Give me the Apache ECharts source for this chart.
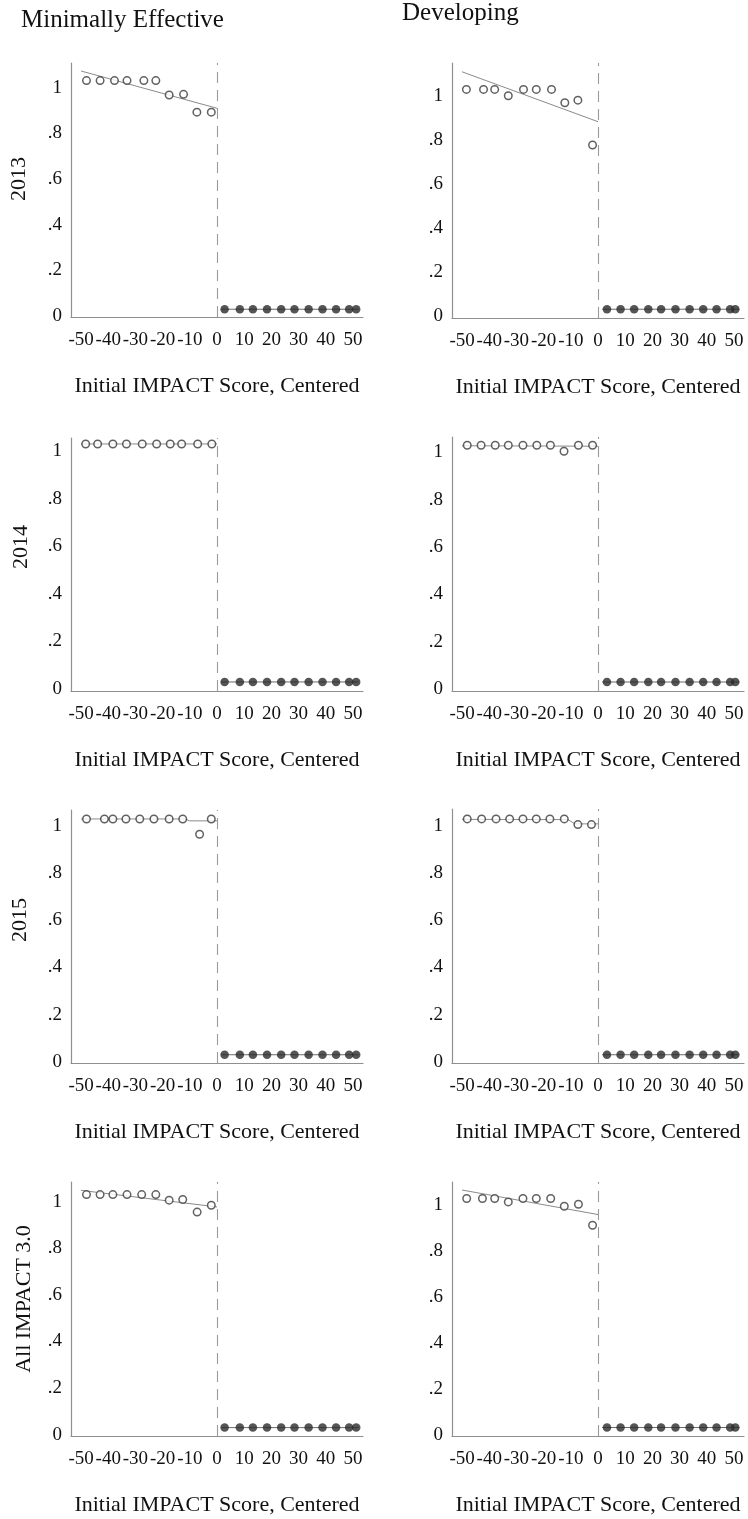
<!DOCTYPE html>
<html>
<head>
<meta charset="utf-8">
<script src="https://cdn.jsdelivr.net/npm/echarts@6/dist/echarts.min.js"></script>
<style>
  html, body { margin: 0; padding: 0; background: #fff; }
  #chart { width: 748px; height: 1519px; }
</style>
</head>
<body>
<div id="chart"></div>
<script>
// Regression-discontinuity bin plots: share of teachers by initial IMPACT score
const columnTitles = ['Minimally Effective', 'Developing'];
const rowTitles = ['2013', '2014', '2015', 'All IMPACT 3.0'];
const xTitle = 'Initial IMPACT Score, Centered';
const xTicks = [-50, -40, -30, -20, -10, 0, 10, 20, 30, 40, 50];
const yTicks = [0, 0.2, 0.4, 0.6, 0.8, 1];

// Bin means below the cutoff (open circles)
const me2013X = [-48.0, -43.0, -37.7, -33.1, -26.9, -22.5, -17.6, -12.3, -7.4, -2.1];
const me2013Y = [1, 1, 1, 1, 1, 1, 0.937, 0.94, 0.862, 0.862];
const dev2013X = [-48.4, -42.1, -38.0, -33.0, -27.4, -22.7, -17.1, -12.2, -7.4, -2.0];
const dev2013Y = [1, 1, 1, 0.971, 1, 1, 1, 0.939, 0.951, 0.747];
const me2014X = [-48.3, -43.9, -38.3, -33.3, -27.5, -22.2, -17.2, -13.0, -7.1, -1.9];
const me2014Y = [1, 1, 1, 1, 1, 1, 1, 1, 1, 1];
const dev2014X = [-48.1, -43.0, -37.8, -33.0, -27.6, -22.5, -17.5, -12.5, -7.2, -2.0];
const dev2014Y = [1, 1, 1, 1, 1, 1, 1, 0.975, 1, 1];
const me2015X = [-48.0, -41.4, -38.3, -33.5, -28.4, -23.2, -17.6, -12.6, -6.4, -2.1];
const me2015Y = [1, 1, 1, 1, 1, 1, 1, 1, 0.935, 1];
const dev2015X = [-48.1, -42.8, -37.5, -32.5, -27.6, -22.7, -17.7, -12.4, -7.4, -2.4];
const dev2015Y = [1, 1, 1, 1, 1, 1, 1, 1, 0.976, 0.976];
const meAllX = [-48.0, -43.0, -38.3, -33.1, -27.7, -22.5, -17.6, -12.6, -7.3, -2.1];
const meAllY = [1, 1, 1, 1, 1, 1, 0.976, 0.979, 0.925, 0.954];
const devAllX = [-48.3, -42.5, -38.0, -33.0, -27.6, -22.7, -17.4, -12.4, -7.2, -2.0];
const devAllY = [1, 1, 1, 0.985, 1, 1, 1, 0.966, 0.975, 0.883];

// Bin means above the cutoff (filled circles)
const meAboveX = [2.8, 8.4, 13.2, 18.4, 23.6, 28.5, 33.7, 38.8, 43.8, 48.6, 51.2];
const devAboveX = [3.3, 8.3, 13.3, 18.5, 23.2, 28.5, 33.7, 38.7, 43.6, 48.6, 50.5];
const aboveY = [0, 0, 0, 0, 0, 0, 0, 0, 0, 0, 0];

// Fitted lines on each side of the cutoff
const me2013Fit = [[-50, 1.042], [0, 0.879]];
const dev2013Fit = [[-50, 1.08], [0, 0.853]];
const me2014Fit = [[-50, 1.0], [0, 1.0]];
const dev2014Fit = [[-50, 0.998], [0, 0.996]];
const me2015Fit = [[-50, 1.0], [-12, 1.0], [-10, 0.992], [0, 0.992]];
const dev2015Fit = [[-50, 0.998], [-11, 0.997], [-8.5, 0.979], [0, 0.979]];
const meAllFit = [[-50, 1.018], [0, 0.947]];
const devAllFit = [[-50, 1.037], [0, 0.93]];
const aboveFit = [[1.5, 0], [52, 0]];

// Axis ranges per panel
const xRange = [-53.7, 53.7];
const yRanges = [
  [[-0.034, 1.077], [-0.04, 1.12]],
  [[-0.038, 1.025], [-0.038, 1.035]],
  [[-0.035, 1.038], [-0.035, 1.042]],
  [[-0.036, 1.054], [-0.037, 1.072]]
];

const panels = [
  { row: 0, col: 0, x: me2013X, y: me2013Y, fit: me2013Fit },
  { row: 0, col: 1, x: dev2013X, y: dev2013Y, fit: dev2013Fit },
  { row: 1, col: 0, x: me2014X, y: me2014Y, fit: me2014Fit },
  { row: 1, col: 1, x: dev2014X, y: dev2014Y, fit: dev2014Fit },
  { row: 2, col: 0, x: me2015X, y: me2015Y, fit: me2015Fit },
  { row: 2, col: 1, x: dev2015X, y: dev2015Y, fit: dev2015Fit },
  { row: 3, col: 0, x: meAllX, y: meAllY, fit: meAllFit },
  { row: 3, col: 1, x: devAllX, y: devAllY, fit: devAllFit }
];

// Layout of the plot areas
const colLeft = [71, 452];
const plotWidth = 292;
const rowTop = [[63, 63], [438, 437], [810, 809], [1182, 1182]];
const rowBottom = [[317, 318], [691, 691], [1063, 1063], [1436, 1436]];

const serif = '"Liberation Serif", "Times New Roman", Times, serif';
const textColor = '#111111';
const axisGray = '#8f8f8f';

const zip = (xs, ys) => xs.map((v, i) => [v, ys[i]]);
const yFmt = v => (v === 0 ? '0' : v === 1 ? '1' : String(v).replace(/^0/, ''));

const grids = [], xAxes = [], yAxes = [], series = [];

panels.forEach((p, i) => {
  const top = rowTop[p.row][p.col];
  const bottom = rowBottom[p.row][p.col];
  grids.push({ left: colLeft[p.col], top: top, width: plotWidth, height: bottom - top, containLabel: false });
  xAxes.push({
    gridIndex: i, type: 'value', min: xRange[0], max: xRange[1],
    axisLine: { onZero: false, lineStyle: { color: axisGray, width: 1.2 } },
    axisTick: { show: false }, splitLine: { show: false },
    axisLabel: { customValues: xTicks, margin: 14, fontSize: 19, fontFamily: serif, color: textColor },
    name: xTitle, nameLocation: 'middle', nameGap: 58,
    nameTextStyle: { fontSize: 22, fontFamily: serif, color: textColor }
  });
  const r = yRanges[p.row][p.col];
  yAxes.push({
    gridIndex: i, type: 'value', min: r[0], max: r[1],
    axisLine: { show: true, onZero: false, lineStyle: { color: axisGray, width: 1.2 } },
    axisTick: { show: false }, splitLine: { show: false },
    axisLabel: { customValues: yTicks, formatter: yFmt, margin: 9, verticalAlign: 'top', lineHeight: 14,
      fontSize: 19, fontFamily: serif, color: textColor }
  });
  const aboveX = p.col === 0 ? meAboveX : devAboveX;
  // fitted line left of the cutoff, with the dashed cutoff marker
  series.push({
    type: 'line', xAxisIndex: i, yAxisIndex: i, data: p.fit, symbol: 'none', silent: true, z: 2,
    lineStyle: { color: '#8a8a8a', width: 1 },
    markLine: {
      silent: true, symbol: 'none', label: { show: false },
      lineStyle: { color: '#9a9a9a', width: 1.1, type: [11, 7] },
      data: [{ xAxis: 0 }]
    }
  });
  // fitted line right of the cutoff
  series.push({
    type: 'line', xAxisIndex: i, yAxisIndex: i, data: aboveFit, symbol: 'none', silent: true, z: 2,
    lineStyle: { color: '#6a6a6a', width: 1 }
  });
  // open circles below the cutoff
  series.push({
    type: 'scatter', xAxisIndex: i, yAxisIndex: i, data: zip(p.x, p.y), symbol: 'circle', symbolSize: 7.5,
    z: 3, itemStyle: { color: '#ffffff', borderColor: '#3a3a3a', borderWidth: 1.5 }
  });
  // filled circles above the cutoff
  series.push({
    type: 'scatter', xAxisIndex: i, yAxisIndex: i, data: zip(aboveX, aboveY), symbol: 'circle', symbolSize: 8.5,
    z: 3, itemStyle: { color: '#2a2a2a' }
  });
});

// Column headings and row labels
const colTitlePos = [[21, 20], [402, 13.5]];
const rowLabelPos = [[19.5, 179], [21.5, 547], [20, 920], [24, 1299]];
const graphics = [];
columnTitles.forEach((t, c) => {
  graphics.push({
    type: 'text', x: colTitlePos[c][0], y: colTitlePos[c][1], silent: true,
    style: { text: t, fontSize: 25, fontFamily: serif, fill: textColor, align: 'left', verticalAlign: 'middle' }
  });
});
rowTitles.forEach((t, r) => {
  graphics.push({
    type: 'text', x: rowLabelPos[r][0], y: rowLabelPos[r][1], rotation: Math.PI / 2, silent: true,
    style: { text: t, fontSize: 22, fontFamily: serif, fill: textColor, align: 'center', verticalAlign: 'middle' }
  });
});

const chart = echarts.init(document.getElementById('chart'), null, { renderer: 'canvas' });
chart.setOption({
  backgroundColor: '#ffffff',
  animation: false,
  grid: grids,
  xAxis: xAxes,
  yAxis: yAxes,
  series: series,
  graphic: graphics
});
</script>
</body>
</html>
